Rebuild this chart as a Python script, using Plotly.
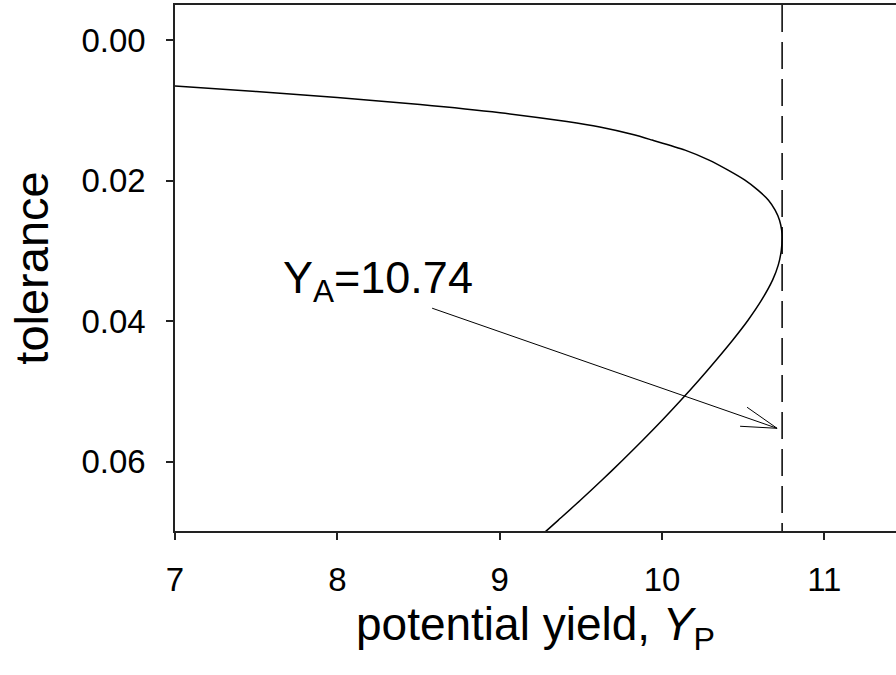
import plotly.graph_objects as go

# ---- data ----
yp_curve = [7.000, 7.501, 7.999, 8.510, 9.003, 9.414, 9.617, 9.821, 9.939, 10.142,
            10.290, 10.407, 10.511, 10.591, 10.656, 10.697, 10.724, 10.737, 10.74,
            10.735, 10.716, 10.681, 10.613, 10.530, 10.435, 10.333, 10.227, 10.116,
            10.001, 9.881, 9.757, 9.629, 9.497, 9.360, 9.291, 9.220]
tol_curve = [0.00651, 0.00730, 0.00815, 0.00915, 0.01032, 0.01158, 0.01236, 0.01343,
             0.01421, 0.01564, 0.01706, 0.01849, 0.01992, 0.02134, 0.02277, 0.02419,
             0.02562, 0.02704, 0.02800,
             0.02992, 0.03203, 0.03417, 0.03702, 0.03987, 0.04272, 0.04557, 0.04842,
             0.05127, 0.05412, 0.05697, 0.05982, 0.06268, 0.06553, 0.06838, 0.06981,
             0.07123]

ya_value = 10.74
label_pos = (8.252, 0.0342)
arrow_tail = (8.584, 0.03816)
arrow_tip = (10.709, 0.05527)
arrow_head_a = (10.524, 0.05227)
arrow_head_b = (10.481, 0.05498)

x_ticks = [7, 8, 9, 10, 11]
y_ticks = [0.00, 0.02, 0.04, 0.06]
y_tick_text = ["0.00", "0.02", "0.04", "0.06"]

x_range = [7, 11.4415]
y_range = [0.0699, -0.00503]

FONT = "Liberation Sans, Arial, Helvetica, sans-serif"

fig = go.Figure()

fig.add_trace(go.Scatter(
    x=yp_curve, y=tol_curve, mode="lines",
    line=dict(color="black", width=1.5, shape="spline", smoothing=0.8),
    hoverinfo="skip", showlegend=False,
))

# arrow (shaft + open head)
fig.add_trace(go.Scatter(
    x=[arrow_tail[0], arrow_tip[0], None, arrow_head_a[0], arrow_tip[0], arrow_head_b[0]],
    y=[arrow_tail[1], arrow_tip[1], None, arrow_head_a[1], arrow_tip[1], arrow_head_b[1]],
    mode="lines", line=dict(color="black", width=1),
    hoverinfo="skip", showlegend=False,
))

fig.add_shape(type="line", xref="x", yref="y domain",
              x0=ya_value, x1=ya_value, y0=1, y1=0,
              line=dict(color="black", width=1.5, dash="27px,10px"))

fig.add_annotation(x=label_pos[0], y=label_pos[1], xref="x", yref="y",
                   text="Y<sub>A</sub>=%.2f" % ya_value, showarrow=False,
                   font=dict(family=FONT, size=45, color="black"),
                   xanchor="center", yanchor="middle")

fig.update_xaxes(
    range=x_range, tickvals=x_ticks, ticks="outside", ticklen=7, tickwidth=1.5,
    tickcolor="#222", showline=True, linecolor="#222", linewidth=1.5, mirror=True,
    showgrid=False, zeroline=False, ticklabelstandoff=12,
    tickfont=dict(family=FONT, size=33, color="black"),
    title=dict(text="potential yield, <i>Y</i><sub>P</sub>",
               font=dict(family=FONT, size=46, color="black"), standoff=8),
)
fig.update_yaxes(
    range=y_range, tickvals=y_ticks, ticktext=y_tick_text, ticks="outside",
    ticklen=7, tickwidth=1.5, tickcolor="#222", showline=True, linecolor="#222",
    linewidth=1.5, mirror=False, showgrid=False, zeroline=False,
    tickfont=dict(family=FONT, size=33, color="black"), ticklabelstandoff=14,
    title=dict(text="tolerance", font=dict(family=FONT, size=47, color="black"),
               standoff=18),
)

fig.update_layout(
    width=896, height=675,
    margin=dict(l=175, r=0, t=5, b=144, autoexpand=False),
    plot_bgcolor="white", paper_bgcolor="white",
    showlegend=False,
)

fig.write_html("out.html", config={"displayModeBar": False},
               post_script="document.body.style.margin='0';"
                           "document.body.style.overflow='hidden';")
